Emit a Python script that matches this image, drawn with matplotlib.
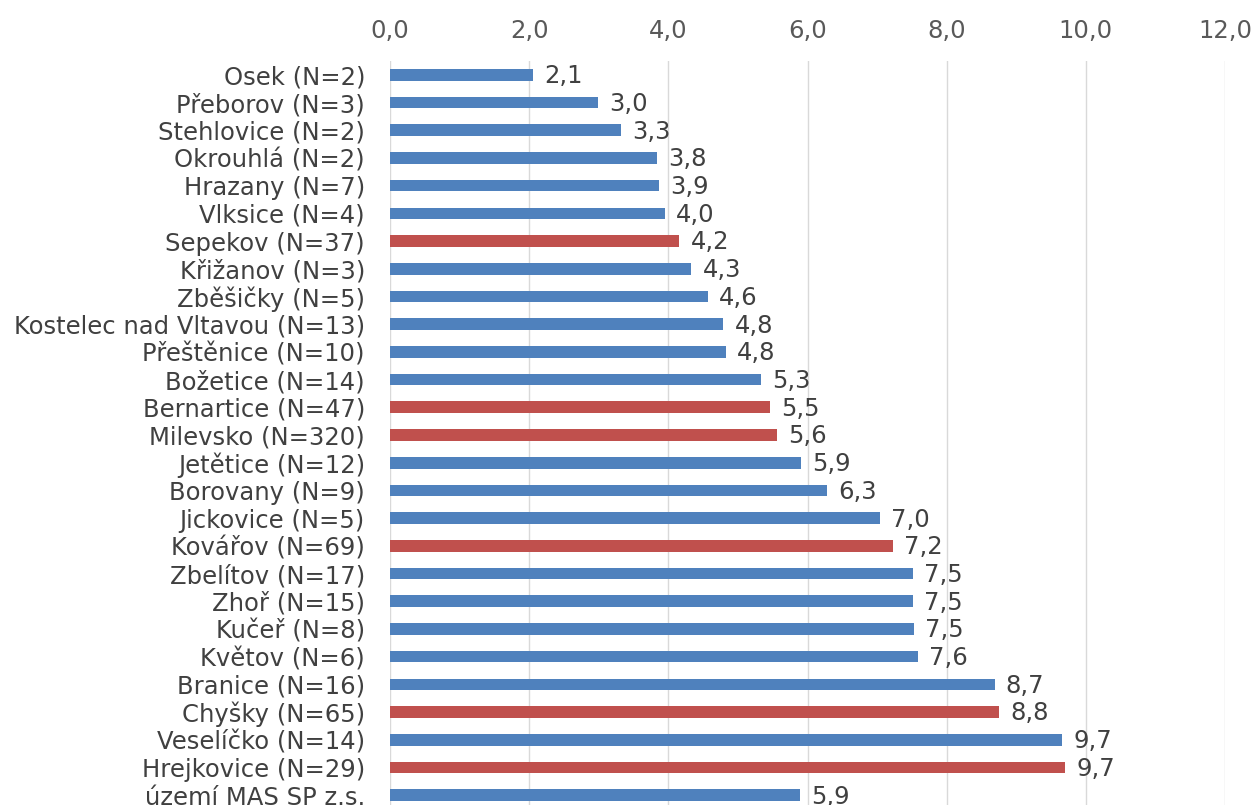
import matplotlib
matplotlib.use("Agg")
import matplotlib.pyplot as plt

# data
obce = [
    "Osek (N=2)", "Přeborov (N=3)", "Stehlovice (N=2)", "Okrouhlá (N=2)",
    "Hrazany (N=7)", "Vlksice (N=4)", "Sepekov (N=37)", "Křižanov (N=3)",
    "Zběšičky (N=5)", "Kostelec nad Vltavou (N=13)", "Přeštěnice (N=10)",
    "Božetice (N=14)", "Bernartice (N=47)", "Milevsko (N=320)",
    "Jetětice (N=12)", "Borovany (N=9)", "Jickovice (N=5)", "Kovářov (N=69)",
    "Zbelítov (N=17)", "Zhoř (N=15)", "Kučeř (N=8)", "Květov (N=6)",
    "Branice (N=16)", "Chyšky (N=65)", "Veselíčko (N=14)",
    "Hrejkovice (N=29)", "území MAS SP z.s.",
]
hodnoty = [
    2.06, 2.99, 3.32, 3.84, 3.86, 3.95, 4.16, 4.33, 4.57, 4.79, 4.83,
    5.33, 5.46, 5.56, 5.91, 6.28, 7.04, 7.23, 7.52, 7.52, 7.53, 7.59,
    8.69, 8.75, 9.66, 9.70, 5.89,
]
zvyraznene = [
    "Sepekov (N=37)", "Bernartice (N=47)", "Milevsko (N=320)",
    "Kovářov (N=69)", "Chyšky (N=65)", "Hrejkovice (N=29)",
]
osa_ticks = [0, 2, 4, 6, 8, 10, 12]

MODRA = "#4F81BD"
CERVENA = "#C0504D"
TEXT = "#404040"
FS = 17.5


def main():
    plt.rcParams["font.family"] = ["DejaVu Sans"]
    fig = plt.figure(figsize=(12.55, 8.05), dpi=100)
    ax = fig.add_axes([390 / 1255, -4 / 805, 835 / 1255, 748 / 805])

    pozice = list(range(len(obce)))
    barvy = [CERVENA if o in zvyraznene else MODRA for o in obce]
    ax.barh(pozice, hodnoty, height=0.42, color=barvy, zorder=3)

    for y, v in zip(pozice, hodnoty):
        ax.annotate(f"{v:.1f}".replace(".", ","), (v, y), xytext=(8, -1),
                    textcoords="offset points", va="center", ha="left",
                    fontsize=FS, color=TEXT)

    ax.set_xlim(0, 12)
    ax.set_ylim(len(obce) - 0.5, -0.5)
    ax.set_yticks(pozice)
    ax.set_yticklabels(obce, fontsize=FS, color=TEXT)
    ax.set_xticks(osa_ticks)
    ax.set_xticklabels([f"{t:.1f}".replace(".", ",") for t in osa_ticks],
                       fontsize=FS, color="#595959")
    ax.xaxis.tick_top()
    ax.tick_params(axis="x", length=0, pad=13)
    ax.tick_params(axis="y", length=0, pad=18)
    ax.grid(axis="x", color="#D9D9D9", linewidth=1, zorder=0)
    for s in ax.spines.values():
        s.set_visible(False)

    fig.savefig("out.png", dpi=100)


if __name__ == "__main__":
    main()
